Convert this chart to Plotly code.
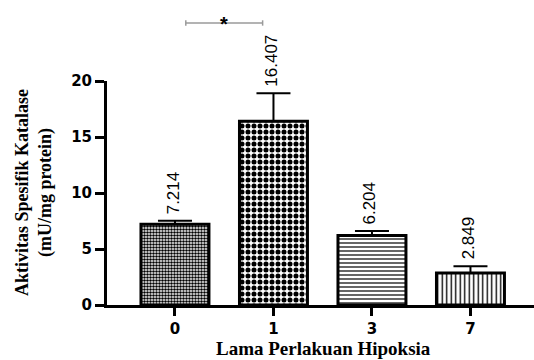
import plotly.graph_objects as go

categories = ["0", "1", "3", "7"]
values = [7.214, 16.407, 6.204, 2.849]
errors = [0.3, 2.5, 0.4, 0.6]
value_labels = ["7.214", "16.407", "6.204", "2.849"]
y_ticks = [0, 5, 10, 15, 20]

x_title = "Lama Perlakuan Hipoksia"
y_title = "Aktivitas Spesifik Katalase<br>(mU/mg protein)"

fig = go.Figure()
fig.add_trace(go.Bar(
    x=categories, y=values, width=0.69,
    marker=dict(
        color="white",
        line=dict(color="black", width=3),
        pattern=dict(
            shape=[".", ".", "-", "|"],
            size=[3, 6, 4, 4.5],
            solidity=[0.55, 0.55, 0.3, 0.3],
            fgcolor="black", bgcolor="white", fillmode="replace",
        ),
    ),
    error_y=dict(type="data", array=errors, arrayminus=[0]*4, symmetric=False,
                 color="black", thickness=2, width=17),
    showlegend=False,
))

for i, (v, e, t) in enumerate(zip(values, errors, value_labels)):
    fig.add_annotation(x=i, y=v + e, xref="x", yref="y", text=t, textangle=-90,
                       showarrow=False, yanchor="bottom", xanchor="center", yshift=5, xshift=-2,
                       font=dict(family="Liberation Sans", size=17, color="black"))

# significance bracket between 0 and 1
by = 1.259
fig.add_shape(type="line", xref="x", yref="paper", x0=0.11, x1=0.89, y0=by, y1=by,
              line=dict(color="#9a9a9a", width=1.5))
for xe in (0.11, 0.89):
    fig.add_shape(type="line", xref="x", yref="paper", x0=xe, x1=xe, y0=by - 0.012, y1=by + 0.012,
                  line=dict(color="#9a9a9a", width=1.5))
fig.add_annotation(x=0.5, y=by, xref="x", yref="paper", text="*", showarrow=False,
                   yanchor="bottom", yshift=-14,
                   font=dict(family="Liberation Sans", size=20, color="black", weight="bold"))

fig.add_annotation(x=0, y=0.5, xref="paper", yref="paper", text=y_title, textangle=-90,
                   showarrow=False, xanchor="center", yanchor="middle", xshift=-73,
                   font=dict(family="Liberation Serif", size=18, color="black", weight="bold"))
fig.add_annotation(x=0.5, y=0, xref="paper", yref="paper", text=x_title,
                   showarrow=False, xanchor="center", yanchor="middle", yshift=-43, xshift=3,
                   font=dict(family="Liberation Serif", size=19, color="black", weight="bold"))

fig.update_layout(
    width=534, height=360,
    margin=dict(l=107, r=0, t=81, b=55),
    paper_bgcolor="white", plot_bgcolor="white",
)
fig.update_xaxes(range=[-0.69, 3.645], showline=True, linecolor="black", linewidth=3,
                 ticks="outside", ticklen=8, tickwidth=2.5, tickcolor="black",
                 showgrid=False, zeroline=False,
                 tickfont=dict(family="DejaVu Sans", size=15, color="black", weight="bold"))
fig.update_yaxes(range=[0, 20], tickvals=y_ticks, showline=True, linecolor="black", linewidth=3,
                 ticks="outside", ticklen=9, tickwidth=2.5, tickcolor="black",
                 showgrid=False, zeroline=False,
                 tickfont=dict(family="DejaVu Sans", size=15, color="black", weight="bold"))

fig.write_html("out.html", config={"displayModeBar": False},
               post_script="document.body.style.margin='0';")
